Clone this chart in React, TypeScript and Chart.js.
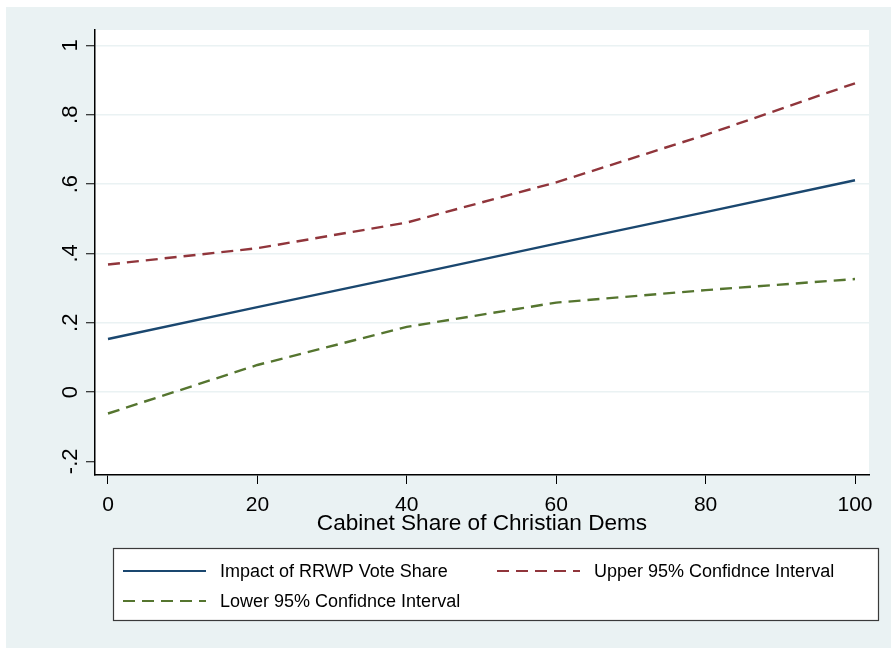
import React, { useEffect, useRef } from "react";
import { Chart, registerables } from "chart.js";

Chart.register(...registerables);

const cabinetShare = [0, 20, 40, 60, 80, 100];
const impact = [0.153, 0.245, 0.336, 0.428, 0.519, 0.611];
const upperCI = [0.368, 0.415, 0.489, 0.605, 0.742, 0.891];
const lowerCI = [-0.062, 0.078, 0.188, 0.258, 0.294, 0.326];

const xTicks = [0, 20, 40, 60, 80, 100];
const yTicks = [-0.2, 0, 0.2, 0.4, 0.6, 0.8, 1];
const yTickLabels = ["-.2", "0", ".2", ".4", ".6", ".8", "1"];

const seriesNames = [
  "Impact of RRWP Vote Share",
  "Upper 95% Confidnce Interval",
  "Lower 95% Confidnce Interval",
];
const xTitle = "Cabinet Share of Christian Dems";

const NAVY = "#1a476f";
const MAROON = "#90353b";
const GREEN = "#55752f";
const BG = "#eaf2f3";
const FONT = "'Liberation Sans', Arial, sans-serif";
const DASH = [12, 7];

export default function App() {
  const ref = useRef<HTMLCanvasElement | null>(null);

  useEffect(() => {
    const canvas = ref.current;
    if (!canvas) return;

    const decor = {
      id: "decor",
      beforeDraw(chart: any) {
        const { ctx, chartArea } = chart;
        ctx.save();
        ctx.fillStyle = "#ffffff";
        ctx.fillRect(0, 0, chart.width, chart.height);
        ctx.fillStyle = BG;
        ctx.fillRect(6, 7, chart.width - 6, chart.height - 7);
        ctx.fillStyle = "#ffffff";
        ctx.fillRect(
          chartArea.left,
          chartArea.top,
          chartArea.right - chartArea.left,
          chartArea.bottom - chartArea.top
        );
        ctx.restore();
      },
      afterDraw(chart: any) {
        const { ctx } = chart;
        const xs = chart.scales.x;
        const ys = chart.scales.y;
        ctx.save();
        ctx.fillStyle = "#000";
        ctx.font = `21px ${FONT}`;
        ctx.textAlign = "center";
        ctx.textBaseline = "alphabetic";
        xTicks.forEach((v) => {
          ctx.fillText(String(v), xs.getPixelForValue(v), 511);
        });
        ctx.font = `22px ${FONT}`;
        yTicks.forEach((v, i) => {
          const py = ys.getPixelForValue(v);
          ctx.save();
          ctx.translate(77, py);
          ctx.rotate(-Math.PI / 2);
          ctx.textAlign = "center";
          ctx.textBaseline = "alphabetic";
          ctx.fillText(yTickLabels[i], 0, 0);
          ctx.restore();
        });
        ctx.font = `22.6px ${FONT}`;
        ctx.textAlign = "center";
        ctx.fillText(xTitle, (chart.chartArea.left + chart.chartArea.right) / 2, 530);

        ctx.fillStyle = "#ffffff";
        ctx.fillRect(113, 548, 765, 73);
        ctx.strokeStyle = "#3a3a3a";
        ctx.lineWidth = 1.2;
        ctx.strokeRect(113.5, 548.5, 765, 72);
        const items = [
          { x: 123, y: 571, color: NAVY, dash: [] as number[], text: seriesNames[0] },
          { x: 497, y: 571, color: MAROON, dash: DASH, text: seriesNames[1] },
          { x: 123, y: 601, color: GREEN, dash: DASH, text: seriesNames[2] },
        ];
        ctx.font = `18px ${FONT}`;
        ctx.textAlign = "left";
        ctx.textBaseline = "middle";
        items.forEach((it) => {
          ctx.beginPath();
          ctx.setLineDash(it.dash);
          ctx.strokeStyle = it.color;
          ctx.lineWidth = 2.2;
          ctx.moveTo(it.x, it.y);
          ctx.lineTo(it.x + 83, it.y);
          ctx.stroke();
          ctx.setLineDash([]);
          ctx.fillStyle = "#000";
          ctx.fillText(it.text, it.x + 97, it.y + 1);
        });
        ctx.restore();
      },
    };

    const mk = (vals: number[]) => cabinetShare.map((x, i) => ({ x, y: vals[i] }));

    const chart = new Chart(canvas, {
      type: "line",
      data: {
        datasets: [
          {
            label: seriesNames[0],
            data: mk(impact),
            borderColor: NAVY,
            borderWidth: 2.4,
            pointRadius: 0,
            tension: 0,
          },
          {
            label: seriesNames[1],
            data: mk(upperCI),
            borderColor: MAROON,
            borderWidth: 2.4,
            borderDash: DASH,
            pointRadius: 0,
            tension: 0,
          },
          {
            label: seriesNames[2],
            data: mk(lowerCI),
            borderColor: GREEN,
            borderWidth: 2.4,
            borderDash: DASH,
            pointRadius: 0,
            tension: 0,
          },
        ],
      },
      options: {
        responsive: false,
        animation: false,
        devicePixelRatio: 1,
        layout: { padding: { top: 30, right: 22, left: 0, bottom: 0 } },
        plugins: {
          legend: { display: false },
          tooltip: { enabled: false },
        },
        scales: {
          x: {
            type: "linear",
            min: -1.74,
            max: 101.874,
            afterBuildTicks: (s: any) => {
              s.ticks = xTicks.map((v) => ({ value: v }));
            },
            afterFit: (s: any) => {
              s.height = 173;
            },
            ticks: { display: false },
            grid: {
              drawOnChartArea: false,
              drawTicks: true,
              tickLength: 9,
              tickColor: "#000",
              tickWidth: 1,
            },
            border: { display: true, color: "#000", width: 1.5 },
          },
          y: {
            type: "linear",
            min: -0.2395,
            max: 1.0447,
            afterBuildTicks: (s: any) => {
              s.ticks = yTicks.map((v) => ({ value: v }));
            },
            afterFit: (s: any) => {
              s.width = 95;
            },
            ticks: { display: false },
            grid: {
              drawOnChartArea: true,
              drawTicks: true,
              tickLength: 9,
              tickColor: "#000",
              tickWidth: 1,
              lineWidth: 1.5,
              color: (c: any) =>
                c.tick && Math.abs(c.tick.value - -0.2) < 1e-6 ? "rgba(0,0,0,0)" : BG,
            },
            border: { display: true, color: "#000", width: 1.5 },
          },
        },
      } as any,
      plugins: [decor],
    });

    return () => chart.destroy();
  }, []);

  return (
    <div style={{ position: "absolute", left: 0, top: 0, width: 891, height: 648 }}>
      <canvas ref={ref} width={891} height={648} style={{ display: "block" }} />
    </div>
  );
}
